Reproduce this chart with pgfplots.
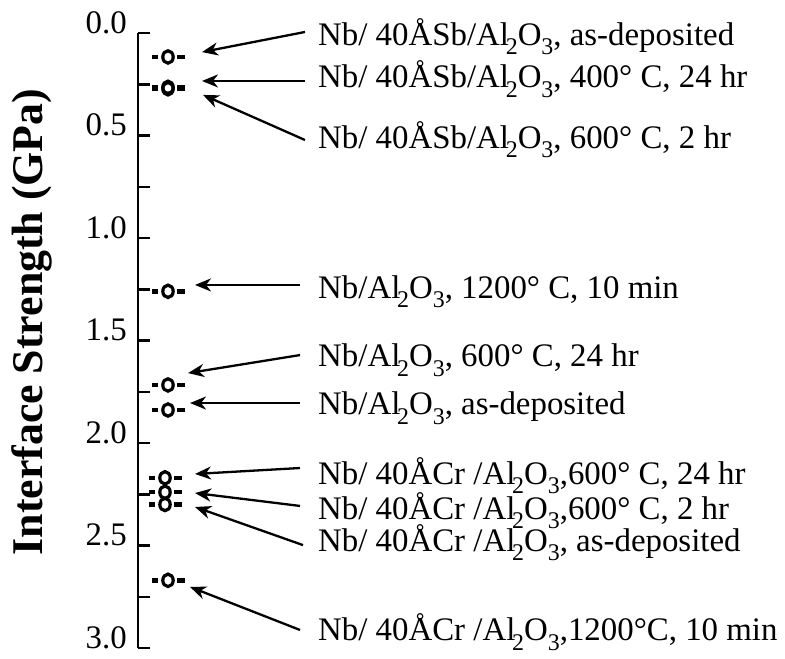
\documentclass[border=0pt]{standalone}
\usepackage{pgfplots}
\pgfplotsset{compat=1.18}
\usepackage{fontspec}
\setmainfont{Liberation Serif}
\usetikzlibrary{arrows.meta}
\pgfdeclareplotmark{dasho}{%
  \pgfsetlinewidth{3.2bp}%
  \pgfpathellipse{\pgfpointorigin}{\pgfpoint{5.2bp}{0bp}}{\pgfpoint{0bp}{6.2bp}}%
  \pgfusepathqstroke
  \pgfsetlinewidth{4.5bp}%
  \pgfpathmoveto{\pgfpoint{-16bp}{0bp}}\pgfpathlineto{\pgfpoint{-9.5bp}{0bp}}%
  \pgfpathmoveto{\pgfpoint{9.5bp}{0bp}}\pgfpathlineto{\pgfpoint{17bp}{0bp}}%
  \pgfusepathqstroke
}
\newcommand{\sub}[1]{\raisebox{-0.3em}{\fontsize{24}{24}\selectfont #1}}
\newcommand{\AlO}{Al\kern-0.1em\sub{2}O\sub{3}}
\newcommand{\lbl}{\fontsize{33}{36}\selectfont}
\begin{document}
\begin{tikzpicture}
\useasboundingbox (-138bp,-11bp) rectangle (647bp,648bp);
\begin{axis}[
  at={(0,0)}, anchor=south west,
  scale only axis, width=647bp, height=615bp,
  xmin=0, xmax=647, ymin=0, ymax=3, y dir=reverse,
  enlargelimits=false,
  axis x line=none, axis y line=left,
  axis line style={-, line width=2.5bp, black},
  ytick={0,0.5,1,1.5,2,2.5,3},
  minor ytick={0.25,0.75,1.25,1.75,2.25,2.75},
  tick align=inside, major tick length=12bp, minor tick length=12bp,
  every tick/.style={black, line width=2.5bp},
  /pgf/number format/assume math mode=true,
  yticklabel={\lbl\pgfmathprintnumber[fixed,fixed zerofill,precision=1,assume math mode=true]{\tick}},
  yticklabel style={anchor=base east, inner sep=0pt, xshift=-11bp},
  ylabel={Interface Strength (GPa)},
  every axis y label/.style={at={(axis cs:-106,1.41)}, rotate=90, anchor=center,
    font=\bfseries\fontsize{44}{48}\selectfont},
  clip=false,
]
\addplot[only marks, mark=dasho, black] coordinates {
  (30,0.117) (30,0.265) (30,0.272) (30,1.26) (30,1.717) (30,1.839)
  (27,2.17) (27,2.24) (27,2.30) (30,2.67)};

\tikzset{arr/.style={line width=2.3bp, black, -{Stealth[length=16bp,width=13bp,inset=5bp]}}}
\draw[arr] (axis cs:167,-0.005) -- (axis cs:64,0.093);
\draw[arr] (axis cs:167,0.234) -- (axis cs:64,0.234);
\draw[arr] (axis cs:167,0.522) -- (axis cs:65,0.302);
\draw[arr] (axis cs:162,1.229) -- (axis cs:57,1.229);
\draw[arr] (axis cs:162,1.571) -- (axis cs:50,1.659);
\draw[arr] (axis cs:162,1.805) -- (axis cs:52,1.805);
\draw[arr] (axis cs:162,2.122) -- (axis cs:57,2.151);
\draw[arr] (axis cs:162,2.307) -- (axis cs:57,2.244);
\draw[arr] (axis cs:165,2.498) -- (axis cs:57,2.312);
\draw[arr] (axis cs:162,2.912) -- (axis cs:52,2.702);

\tikzset{lab/.style={anchor=base west, inner sep=0pt, font=\lbl}}
\node[lab] at (axis cs:180,0.059) {Nb/ 40ÅSb/\AlO, as-deposited};
\node[lab] at (axis cs:180,0.268) {Nb/ 40ÅSb/\AlO, 400° C, 24 hr};
\node[lab] at (axis cs:180,0.561) {Nb/ 40ÅSb/\AlO, 600° C, 2 hr};
\node[lab] at (axis cs:180,1.293) {Nb/\AlO, 1200° C, 10 min};
\node[lab] at (axis cs:180,1.629) {Nb/\AlO, 600° C, 24 hr};
\node[lab] at (axis cs:180,1.863) {Nb/\AlO, as-deposited};
\node[lab] at (axis cs:180,2.200) {Nb/ 40ÅCr /\AlO ,600° C, 24 hr};
\node[lab] at (axis cs:180,2.371) {Nb/ 40ÅCr /\AlO ,600° C, 2 hr};
\node[lab] at (axis cs:180,2.527) {Nb/ 40ÅCr /\AlO, as-deposited};
\node[lab] at (axis cs:180,2.965) {Nb/ 40ÅCr /\AlO ,1200°C, 10 min};
\end{axis}
\end{tikzpicture}
\end{document}
